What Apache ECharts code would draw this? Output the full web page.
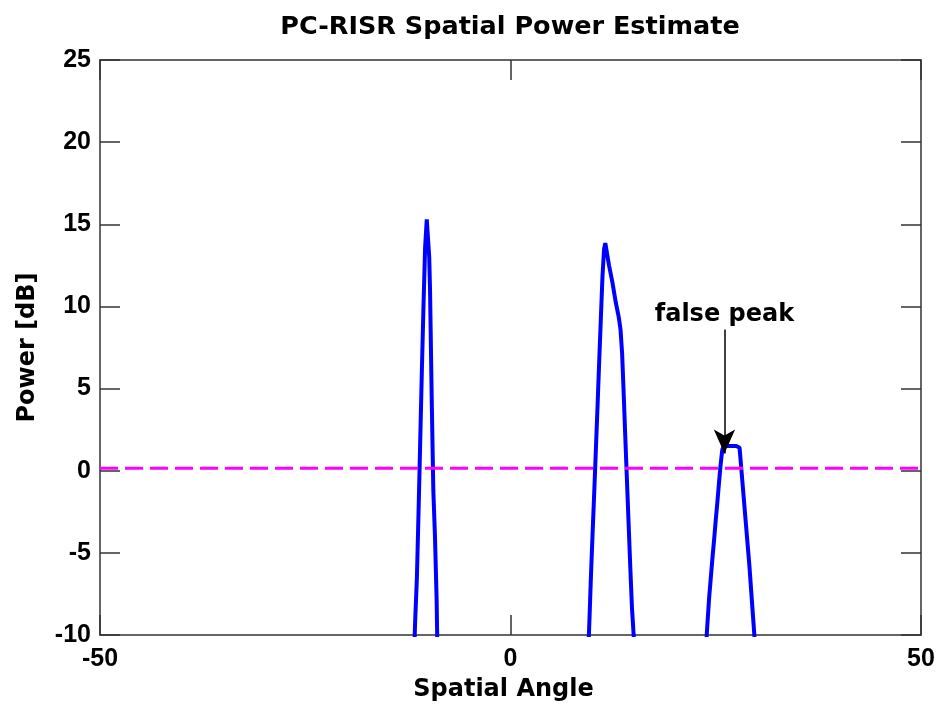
<!DOCTYPE html>
<html>
<head>
<meta charset="utf-8">
<script src="https://cdn.jsdelivr.net/npm/echarts@6/dist/echarts.min.js"></script>
<style>
html,body{margin:0;padding:0;background:#fff;}
#chart{width:940px;height:717px;}
</style>
</head>
<body>
<div id="chart"></div>
<script>
// ---- data ----
var titleText = 'PC-RISR Spatial Power Estimate';
var xAxisName = 'Spatial Angle';
var yAxisName = 'Power [dB]';
var xTicks = [-50, 0, 50];
var yTicks = [-10, -5, 0, 5, 10, 15, 20, 25];

var peak1Angle = [-11.9, -11.6, -11.4, -11.2, -11.0, -10.8, -10.6, -10.4, -10.2, -10.05, -9.9, -9.8, -9.6, -9.4, -9.2, -9.0, -8.9, -8.7];
var peak1Power = [-13.5, -9.0, -6.5, -2.5, 1.7, 6.0, 10.0, 13.6, 15.3, 15.3, 13.0, 11.0, 4.5, -1.2, -4.0, -7.8, -11.0, -14.0];

var peak2Angle = [9.2, 9.4, 9.6, 9.8, 10.0, 10.2, 10.4, 10.6, 10.8, 11.0, 11.2, 11.4, 11.55, 11.8, 12.0, 12.2, 12.4, 12.6, 12.8, 13.0, 13.2, 13.4, 13.6, 13.8, 14.0, 14.2, 14.4, 14.6, 14.8, 15.0, 15.2];
var peak2Power = [-14.5, -12.0, -9.3, -6.4, -3.8, -1.3, 1.3, 3.9, 6.6, 9.2, 11.8, 13.5, 13.85, 13.1, 12.5, 12.0, 11.5, 10.9, 10.3, 9.8, 9.3, 8.6, 7.1, 4.5, 1.8, -0.8, -3.4, -6.0, -8.4, -10.0, -12.0];

var peak3Angle = [23.6, 23.8, 24.0, 24.2, 24.4, 24.6, 24.8, 25.0, 25.2, 25.4, 25.6, 25.8, 26.0, 26.5, 27.0, 27.5, 27.9, 28.1, 28.3, 28.5, 28.7, 28.9, 29.1, 29.3, 29.5, 29.7, 29.9];
var peak3Power = [-12.3, -10.8, -9.2, -7.7, -6.5, -5.3, -4.2, -3.0, -1.9, -0.7, 0.4, 1.3, 1.5, 1.5, 1.5, 1.5, 1.4, 0.2, -1.0, -2.2, -3.4, -4.6, -5.8, -7.2, -8.6, -10.0, -11.4];

var thresholdAngle = [-50, 50];
var thresholdPower = [0.15, 0.15];

var annotationText = 'false peak';
var arrowAngle = 26.06;
var arrowFrom = 8.6;
var arrowTo = 1.05;

// ---- build ----
function pairs(xs, ys) { return xs.map(function (x, i) { return [x, ys[i]]; }); }

var FONT = '"DejaVu Sans", "Liberation Sans", Arial, sans-serif';
var NUMFONT = '"Liberation Sans", Arial, Helvetica, sans-serif';
var AX = '#333';

var blueStyle = { color: '#0000ff', width: 4 };
function peakSeries(xs, ys) {
  return {
    type: 'line', data: pairs(xs, ys), showSymbol: false, symbol: 'none',
    lineStyle: blueStyle, itemStyle: { color: '#0000ff' }, clip: true, z: 3,
    animation: false
  };
}

var s1 = peakSeries(peak1Angle, peak1Power);
var s2 = peakSeries(peak2Angle, peak2Power);
var s3 = peakSeries(peak3Angle, peak3Power);
s3.markLine = {
  silent: true, animation: false,
  symbol: ['none', 'arrow'], symbolSize: [16, 24],
  lineStyle: { color: '#000', width: 1.5, type: 'solid' },
  label: {
    show: true, position: 'start', formatter: annotationText, distance: 3,
    color: '#000', fontFamily: FONT, fontWeight: 'bold', fontSize: 24
  },
  data: [[{ coord: [arrowAngle, arrowFrom] }, { coord: [arrowAngle, arrowTo] }]]
};

var thresh = {
  type: 'line', data: pairs(thresholdAngle, thresholdPower), showSymbol: false, symbol: 'none',
  lineStyle: { color: '#ff00ff', width: 3, type: [18, 7] }, z: 4, animation: false
};

var tickCommon = { show: true, inside: true, length: 20, lineStyle: { color: AX, width: 1.5 } };
var lineCommon = { show: true, onZero: false, lineStyle: { color: AX, width: 1.5 } };
var lblCommon = { color: '#000', fontFamily: NUMFONT, fontWeight: 'bold', fontSize: 25 };

var option = {
  backgroundColor: '#fff',
  animation: false,
  title: {
    text: titleText, left: 505, top: 9, textAlign: 'center',
    textStyle: { color: '#000', fontFamily: FONT, fontWeight: 'bold', fontSize: 25.5 }
  },
  grid: { left: 100, right: 19, top: 60, bottom: 82, containLabel: false },
  xAxis: [{
    type: 'value', position: 'bottom', min: xTicks[0], max: xTicks[xTicks.length - 1], interval: 50,
    axisLine: lineCommon, axisTick: tickCommon, splitLine: { show: false },
    axisLabel: Object.assign({ margin: 12 }, lblCommon),
    name: xAxisName, nameLocation: 'middle', nameGap: 43,
    nameTextStyle: { color: '#000', fontFamily: FONT, fontWeight: 'bold', fontSize: 24, padding: [0, 14, 0, 0] }
  }, {
    type: 'value', position: 'top', min: xTicks[0], max: xTicks[xTicks.length - 1], interval: 50,
    axisLine: lineCommon, axisTick: tickCommon, splitLine: { show: false }, axisLabel: { show: false }
  }],
  yAxis: [{
    type: 'value', position: 'left', min: yTicks[0], max: yTicks[yTicks.length - 1], interval: 5,
    axisLine: lineCommon, axisTick: tickCommon, splitLine: { show: false },
    axisLabel: Object.assign({ margin: 9 }, lblCommon),
    name: yAxisName, nameLocation: 'middle', nameGap: 60,
    nameTextStyle: { color: '#000', fontFamily: FONT, fontWeight: 'bold', fontSize: 24 }
  }, {
    type: 'value', position: 'right', min: yTicks[0], max: yTicks[yTicks.length - 1], interval: 5,
    axisLine: lineCommon, axisTick: tickCommon, splitLine: { show: false }, axisLabel: { show: false }
  }],
  series: [s1, s2, s3, thresh]
};

var chart = echarts.init(document.getElementById('chart'), null, { renderer: 'canvas' });
chart.setOption(option);
</script>
</body>
</html>
